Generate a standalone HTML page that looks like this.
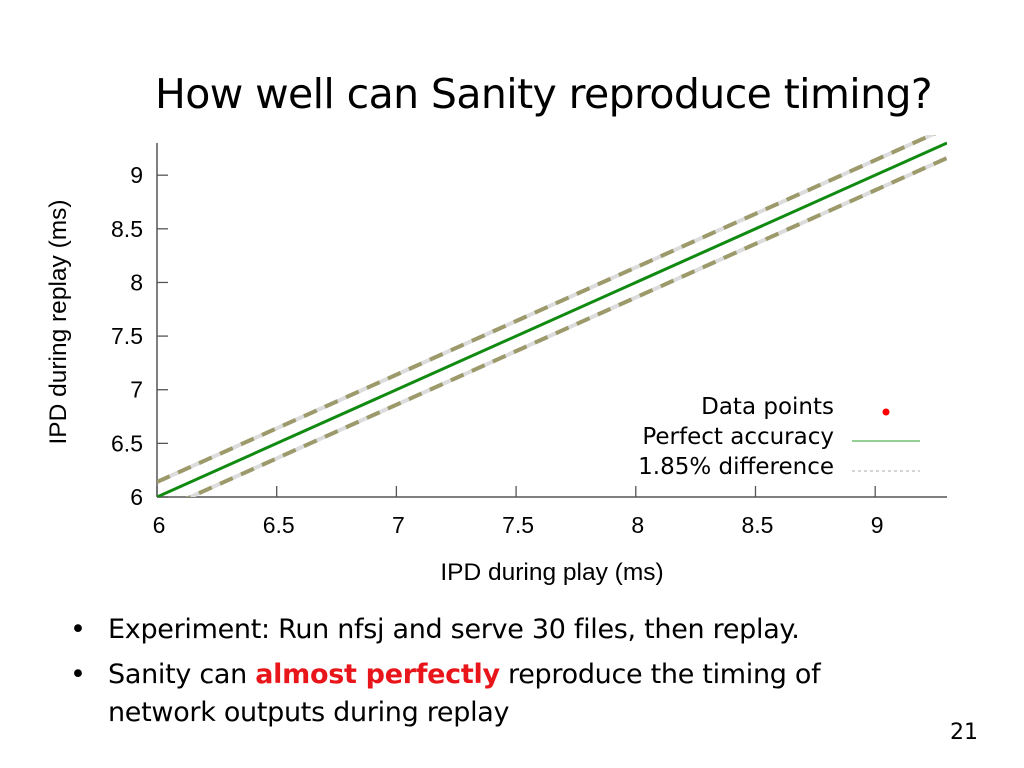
<!DOCTYPE html>
<html><head><meta charset="utf-8"><style>
body{margin:0;width:1024px;height:768px;background:#fff;overflow:hidden;font-family:"Liberation Sans",sans-serif;}
.t{position:absolute;white-space:nowrap;}
.b{font-family:'DejaVu Sans',sans-serif;font-size:27px;letter-spacing:-0.3px;}
</style></head><body>
<div class="t" style="left:155px;top:70px;font-size:41px;color:#000;font-family:'DejaVu Sans',sans-serif;letter-spacing:-0.6px;">How well can Sanity reproduce timing?</div>
<svg width="1024" height="600" style="position:absolute;left:0;top:0" id="chart"></svg>
<div class="t b" style="left:70px;top:614px;">•</div>
<div class="t b" style="left:108px;top:614px;">Experiment: Run nfsj and serve 30 files, then replay.</div>
<div class="t b" style="left:70px;top:659px;">•</div>
<div class="t b" style="left:108px;top:659px;">Sanity can <b style="color:#e8161b">almost perfectly</b> reproduce the timing of</div>
<div class="t b" style="left:108px;top:697px;">network outputs during replay</div>
<div class="t" style="left:950px;top:720px;font-size:22px;font-family:'DejaVu Sans',sans-serif;">21</div>
<script>
const xTicks=[6,6.5,7,7.5,8,8.5,9];
const yTicks=[6,6.5,7,7.5,8,8.5,9];
const xRange=[6,9.3];
const yRange=[6,9.3];
const diffOffset=[0.14];
const NS='http://www.w3.org/2000/svg';
const svg=document.getElementById('chart');
const L=157,R=947,B=497,T=143;
const sx=v=>L+(v-xRange[0])/(xRange[1]-xRange[0])*(R-L);
const sy=v=>B-(v-yRange[0])/(yRange[1]-yRange[0])*(B-T);
function mk(tag,a){const e=document.createElementNS(NS,tag);for(const k in a)e.setAttribute(k,a[k]);svg.appendChild(e);return e;}
const clip=mk('clipPath',{id:'pc'});const cr=document.createElementNS(NS,'rect');cr.setAttribute('x',L);cr.setAttribute('y',T-8);cr.setAttribute('width',R-L);cr.setAttribute('height',B-T+8);clip.appendChild(cr);
let e;
e=mk('line',{x1:L,y1:T,x2:L,y2:B,stroke:'#555','stroke-width':1.5});

e=mk('line',{x1:L,y1:B,x2:R,y2:B,stroke:'#555','stroke-width':1.5});

xTicks.forEach(v=>{
 e=mk('line',{x1:sx(v),y1:B,x2:sx(v),y2:B-11,stroke:'#555','stroke-width':1.3});
 
 e=mk('text',{x:sx(v)+2,y:B+36,'font-size':23,'text-anchor':'middle','fill':'#000'});e.textContent=v;
 
});
yTicks.forEach(v=>{
 e=mk('line',{x1:L,y1:sy(v),x2:L+11,y2:sy(v),stroke:'#555','stroke-width':1.3});
 
 e=mk('text',{x:143,y:sy(v)+8,'font-size':23,'text-anchor':'end','fill':'#000'});e.textContent=v;
 
});
e=mk('text',{x:552,y:580,'font-size':24.5,'text-anchor':'middle'});e.textContent='IPD during play (ms)';

e=mk('text',{x:0,y:0,'font-size':24.5,'text-anchor':'middle',transform:'translate(66,322) rotate(-90)'});e.textContent='IPD during replay (ms)';

const g=mk('g',{'clip-path':'url(#pc)'});
function ln(off,attrs,name){const l=document.createElementNS(NS,'line');
 const a=Object.assign({x1:sx(xRange[0]),y1:sy(xRange[0]+off),x2:sx(xRange[1]),y2:sy(xRange[1]+off)},attrs);
 for(const k in a)l.setAttribute(k,a[k]);g.appendChild(l);
 }
[diffOffset[0],-diffOffset[0]].forEach((o,i)=>{
 ln(o,{stroke:'#dcdcdc','stroke-width':4},'diff-band-points');
 ln(o,{stroke:'#9c9a6a','stroke-width':4,'stroke-dasharray':'14 9'},i?'lower-diff-line':'upper-diff-line');
});
ln(0,{stroke:'#108a10','stroke-width':3},'perfect-accuracy-line');
const lg=[['Data points',412],['Perfect accuracy',442],['1.85% difference',472]];
lg.forEach(([t,y])=>{e=mk('text',{x:834,y:y+2,'font-size':23,'text-anchor':'end','font-family':"'DejaVu Sans',sans-serif"});e.textContent=t;
 });
e=mk('circle',{cx:886,cy:412,r:3.5,fill:'#f00'});
e=mk('line',{x1:852,y1:441,x2:920,y2:441,stroke:'#70c070','stroke-width':1.5});
e=mk('line',{x1:852,y1:471,x2:920,y2:471,stroke:'#aaa','stroke-width':1,'stroke-dasharray':'3 3'});
</script>
</body></html>
